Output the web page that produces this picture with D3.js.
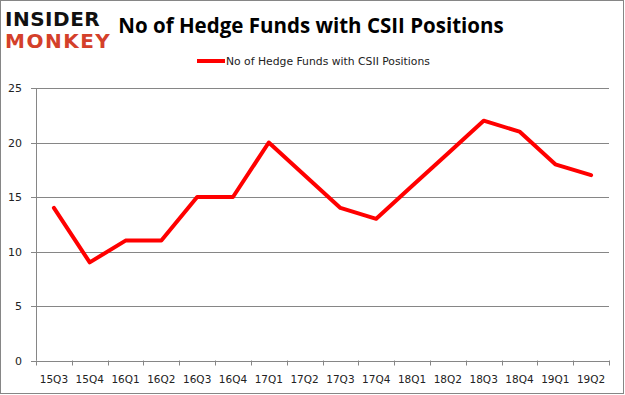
<!DOCTYPE html>
<html>
<head>
<meta charset="utf-8">
<script src="https://cdn.jsdelivr.net/npm/d3@7"></script>
<style>
  body { margin: 0; background: #fff; }
  svg { display: block; }
</style>
</head>
<body>
<div id="chart"></div>
<script>
const quarters = ["15Q3","15Q4","16Q1","16Q2","16Q3","16Q4","17Q1","17Q2","17Q3","17Q4","18Q1","18Q2","18Q3","18Q4","19Q1","19Q2"];
const funds = [14, 9, 11, 11, 15, 15, 20, 17, 14, 13, 16, 19, 22, 21, 18, 17];
const yTicks = [0, 5, 10, 15, 20, 25];
const seriesName = "No of Hedge Funds with CSII Positions";

const width = 625, height = 395;
const margin = {top: 88, right: 16, bottom: 34.5, left: 36};

const svg = d3.select("#chart").append("svg")
    .attr("width", width)
    .attr("height", height);

// outer frame
svg.append("rect")
  .attr("x", 0.5).attr("y", 0.5)
  .attr("width", width - 2).attr("height", height - 2)
  .attr("fill", "#fff")
  .attr("stroke", "#868686");

const x = d3.scaleBand()
    .domain(quarters)
    .range([margin.left, width - margin.right]);

const y = d3.scaleLinear()
    .domain([0, 25])
    .range([height - margin.bottom, margin.top]);

// gridlines
svg.append("g")
  .selectAll("line")
  .data(yTicks)
  .join("line")
    .attr("x1", margin.left - 5)
    .attr("x2", width - margin.right)
    .attr("y1", d => Math.round(y(d)) + 0.5)
    .attr("y2", d => Math.round(y(d)) + 0.5)
    .attr("stroke", "#868686");

// y axis line
svg.append("line")
  .attr("x1", margin.left + 0.5).attr("x2", margin.left + 0.5)
  .attr("y1", y(25)).attr("y2", y(0))
  .attr("stroke", "#868686");

// y labels
svg.append("g")
  .selectAll("text")
  .data(yTicks)
  .join("text")
    .attr("x", 22)
    .attr("y", d => y(d) + 4)
    .attr("text-anchor", "end")
    .attr("font-family", "DejaVu Sans, Verdana, sans-serif")
    .attr("font-size", 11)
    .attr("fill", "#222")
    .text(d => d);

// x axis
const xAxis = svg.append("g")
  .attr("transform", `translate(0,${Math.round(y(0)) + 0.5})`)
  .call(d3.axisBottom(x).tickSize(0).tickPadding(14));
xAxis.select(".domain").remove();
xAxis.selectAll("text")
  .attr("font-family", "DejaVu Sans, Verdana, sans-serif")
  .attr("font-size", 10.5)
  .attr("fill", "#222");
svg.append("g")
  .selectAll("line")
  .data(quarters.concat(["end"]))
  .join("line")
    .attr("x1", (d, i) => Math.round(margin.left + i * x.step()) + 0.5)
    .attr("x2", (d, i) => Math.round(margin.left + i * x.step()) + 0.5)
    .attr("y1", y(0))
    .attr("y2", y(0) + 5)
    .attr("stroke", "#868686");

// series line
const line = d3.line()
    .x((d, i) => x(quarters[i]) + x.bandwidth() / 2)
    .y(d => y(d));
svg.append("path")
  .datum(funds)
  .attr("d", line)
  .attr("fill", "none")
  .attr("stroke", "#ff0000")
  .attr("stroke-width", 4)
  .attr("stroke-linejoin", "round")
  .attr("stroke-linecap", "round");

// title
svg.append("text")
  .attr("x", 311)
  .attr("y", 33)
  .attr("text-anchor", "middle")
  .attr("font-family", "Open Sans, sans-serif")
  .attr("font-weight", "bold")
  .attr("font-size", 20.5)
  .attr("fill", "#000")
  .text("No of Hedge Funds with CSII Positions");

// legend
svg.append("line")
  .attr("x1", 197).attr("x2", 225)
  .attr("y1", 61).attr("y2", 61)
  .attr("stroke", "#ff0000")
  .attr("stroke-width", 4);
svg.append("text")
  .attr("x", 226)
  .attr("y", 65)
  .attr("font-family", "DejaVu Sans, Verdana, sans-serif")
  .attr("font-size", 10.8)
  .attr("fill", "#222")
  .text(seriesName);

// logo
svg.append("text")
  .attr("x", 5).attr("y", 26)
  .attr("font-family", "DejaVu Sans, sans-serif")
  .attr("font-weight", "bold")
  .attr("font-size", 20)
  .attr("letter-spacing", 0.5)
  .attr("fill", "#111")
  .text("INSIDER");
svg.append("text")
  .attr("x", 5).attr("y", 48)
  .attr("font-family", "DejaVu Sans, sans-serif")
  .attr("font-weight", "bold")
  .attr("font-size", 20)
  .attr("letter-spacing", 1.5)
  .attr("fill", "#d4402a")
  .text("MONKEY");
</script>
</body>
</html>
